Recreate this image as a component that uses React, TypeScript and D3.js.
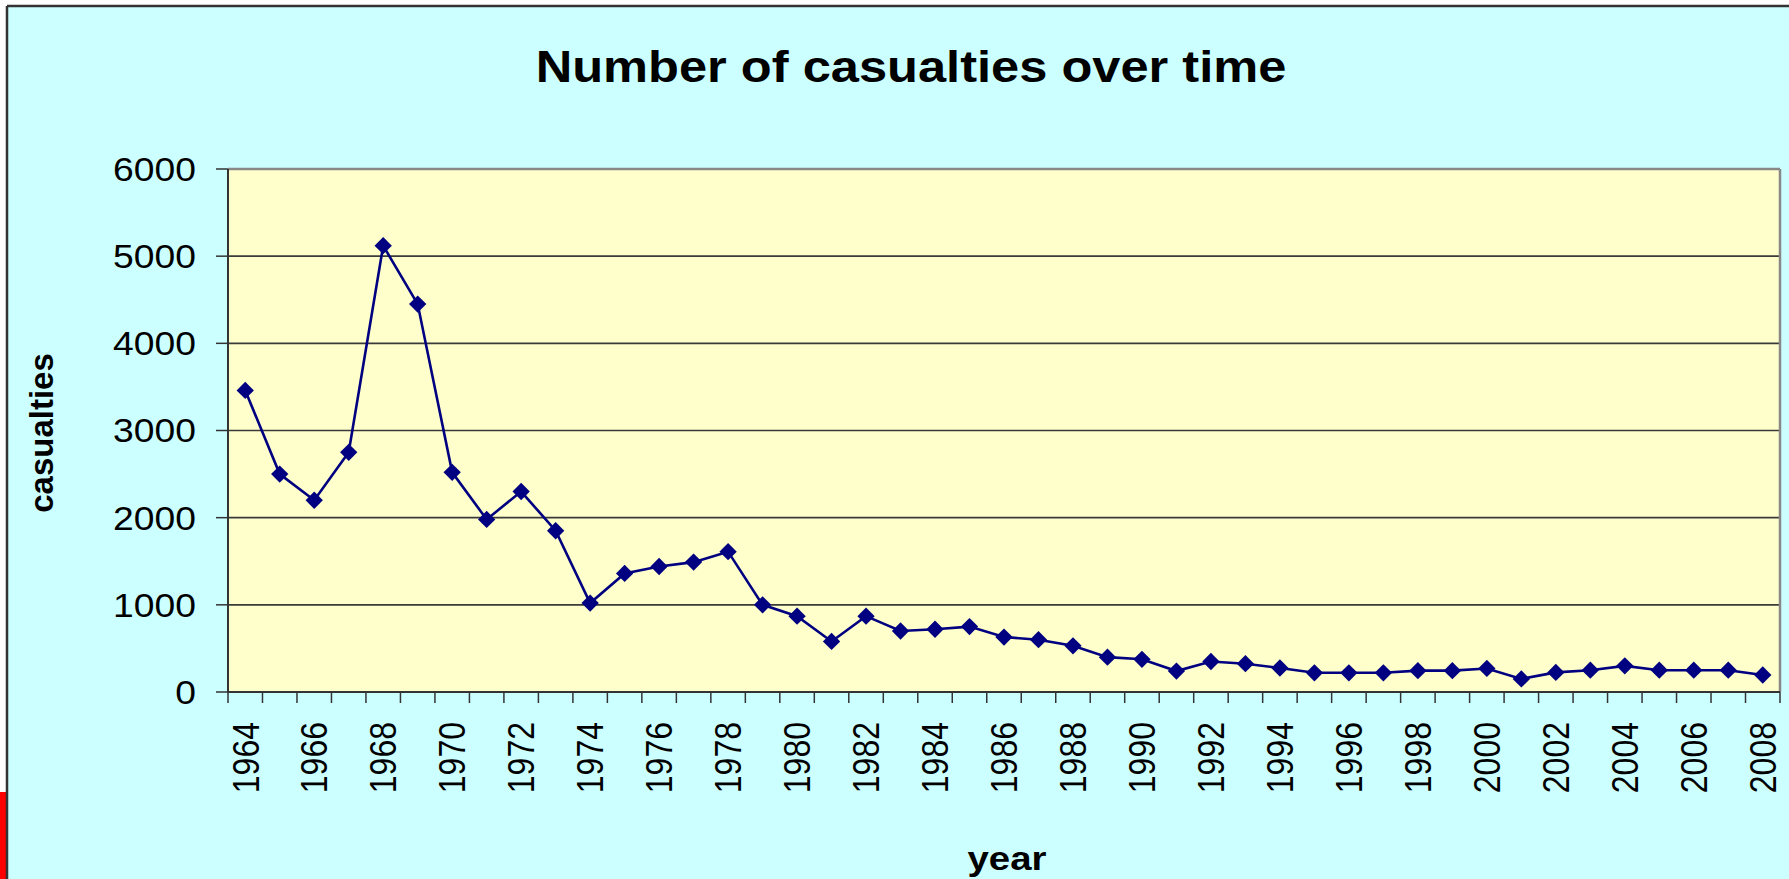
import React from "react";
import * as d3 from "d3";

const years: number[] = [
  1964, 1965, 1966, 1967, 1968, 1969, 1970, 1971, 1972, 1973, 1974, 1975, 1976, 1977, 1978,
  1979, 1980, 1981, 1982, 1983, 1984, 1985, 1986, 1987, 1988, 1989, 1990, 1991, 1992, 1993,
  1994, 1995, 1996, 1997, 1998, 1999, 2000, 2001, 2002, 2003, 2004, 2005, 2006, 2007, 2008,
];
const casualties: number[] = [
  3460, 2500, 2200, 2750, 5120, 4450, 2520, 1980, 2300, 1850, 1020, 1360, 1440, 1490, 1610,
  1000, 870, 580, 870, 700, 720, 750, 630, 600, 530, 400, 375, 240, 350, 325,
  275, 220, 220, 220, 245, 245, 270, 150, 225, 250, 300, 250, 250, 250, 195,
];
const yTicks: number[] = [0, 1000, 2000, 3000, 4000, 5000, 6000];
const xLabelYears: number[] = years.filter((y) => (y - 1964) % 2 === 0);

const W = 1789;
const H = 879;
const PL = 228;
const PR = 1780;
const PT = 169;
const PB = 692;

export default function App() {
  const x = d3.scaleBand<number>().domain(years).range([PL, PR]).paddingInner(0).paddingOuter(0);
  const y = d3.scaleLinear().domain([0, 6000]).range([PB, PT]);
  const cx = (yr: number) => (x(yr) as number) + x.bandwidth() / 2;
  const line = d3
    .line<number>()
    .x((_, i) => cx(years[i]))
    .y((d) => y(d));
  const diamond = d3.symbol().type(d3.symbolSquare).size(150)() as string;
  const boundaries = years.map((yr) => x(yr) as number).concat([PR]);
  const font = "'Liberation Sans', Arial, sans-serif";

  return (
    <svg
      width={W}
      height={H}
      style={{ position: "absolute", left: 0, top: 0, background: "#ffffff" }}
      fontFamily={font}
    >
      <rect x={7} y={6} width={W - 7} height={H - 6} fill="#CCFFFF" />
      <rect x={0} y={792} width={6} height={H - 792} fill="#FF0000" />
      <line x1={7} y1={6} x2={7} y2={H} stroke="#333" strokeWidth={2.5} />
      <line x1={7} y1={6} x2={W} y2={6} stroke="#333" strokeWidth={2.5} />

      {/* plot area */}
      <rect x={PL} y={PT} width={PR - PL} height={PB - PT} fill="#FFFFCC" />
      {yTicks.slice(1, -1).map((t) => (
        <line key={t} x1={PL} x2={PR} y1={y(t)} y2={y(t)} stroke="#3a3a3a" strokeWidth={1.6} />
      ))}
      <line x1={PL} x2={PR} y1={y(6000)} y2={y(6000)} stroke="#888" strokeWidth={2.5} />
      <line x1={PR} x2={PR} y1={PT} y2={PB} stroke="#888" strokeWidth={2.5} />
      <line x1={PL} x2={PL} y1={PT} y2={PB} stroke="#333" strokeWidth={2} />
      <line x1={PL - 1} x2={PR} y1={PB} y2={PB} stroke="#333" strokeWidth={2} />

      {/* y ticks */}
      {yTicks.map((t) => (
        <g key={t}>
          <line x1={216} x2={PL} y1={y(t)} y2={y(t)} stroke="#333" strokeWidth={1.5} />
          <g transform={`translate(196,${y(t)}) scale(1.13,1)`}>
            <text textAnchor="end" dy="0.36em" fontSize={33} fill="#000">
              {t}
            </text>
          </g>
        </g>
      ))}

      {/* x ticks */}
      {boundaries.map((b, i) => (
        <line key={i} x1={b} x2={b} y1={PB} y2={PB + 11} stroke="#333" strokeWidth={1.5} />
      ))}
      {xLabelYears.map((yr) => (
        <g key={yr} transform={`translate(${cx(yr)},722) scale(1.15,1) rotate(-90)`}>
          <text textAnchor="end" dy="0.36em" fontSize={32} fill="#000">
            {yr}
          </text>
        </g>
      ))}

      {/* series */}
      <path d={line(casualties) as string} fill="none" stroke="#000080" strokeWidth={2.6} />
      {casualties.map((v, i) => (
        <path
          key={i}
          d={diamond}
          transform={`translate(${cx(years[i])},${y(v)}) rotate(45)`}
          fill="#000080"
        />
      ))}

      {/* titles */}
      <g transform="translate(911,82) scale(1.15,1)">
        <text textAnchor="middle" fontSize={44} fontWeight="bold" fill="#000">
          Number of casualties over time
        </text>
      </g>
      <g transform="translate(53,433) rotate(-90)">
        <text textAnchor="middle" fontSize={33} fontWeight="bold" fill="#000">
          casualties
        </text>
      </g>
      <g transform="translate(1007,870) scale(1.13,1)">
        <text textAnchor="middle" fontSize={34} fontWeight="bold" fill="#000">
          year
        </text>
      </g>
    </svg>
  );
}
